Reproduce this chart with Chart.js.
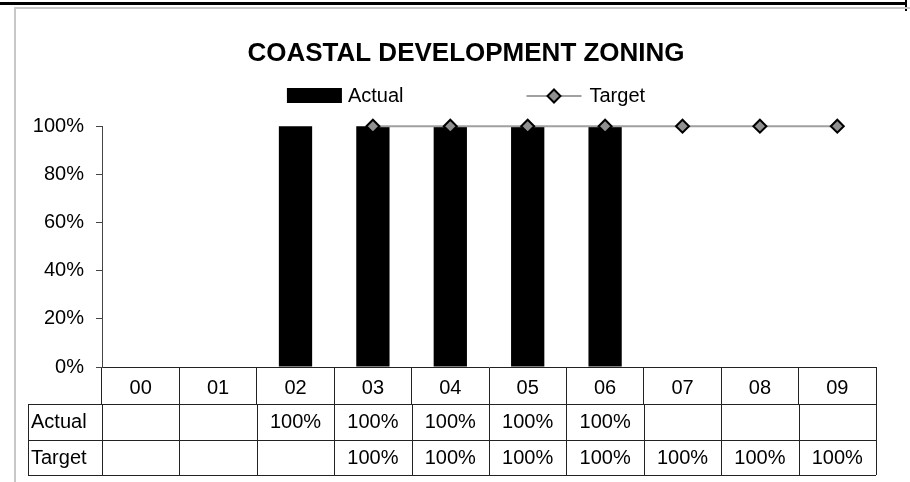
<!DOCTYPE html>
<html lang="en">
<head>
    <meta charset="UTF-8">
    <title>Coastal Development Zoning</title>
    <style>
        body {
            margin: 0;
            background: #fff;
        }
        canvas {
            display: block;
        }
    </style>
</head>
<body>
    <canvas id="grafico" width="910" height="482"></canvas>

    <script src="https://cdn.jsdelivr.net/npm/chart.js"></script>
    <script>
        const anni = ['00', '01', '02', '03', '04', '05', '06', '07', '08', '09'];
        const actual = [null, null, 1, 1, 1, 1, 1, null, null, null];
        const target = [null, null, null, 1, 1, 1, 1, 1, 1, 1];
        const yTickLabels = ['0%', '20%', '40%', '60%', '80%', '100%'];

        const FONT = "'Liberation Sans', Arial, sans-serif";
        const percento = v => (v === null || v === undefined) ? '' : Math.round(v * 100) + '%';

        // cornice esterna: linea nera in alto e bordo grigio dell'area del grafico
        const cornice = {
            id: 'cornice',
            beforeDraw(chart) {
                const ctx = chart.ctx;
                ctx.save();
                ctx.fillStyle = '#fff';
                ctx.fillRect(0, 0, chart.width, chart.height);
                ctx.fillStyle = '#000';
                ctx.fillRect(0, 2, 907, 3);
                ctx.fillRect(905, 0, 2, 11);
                ctx.fillStyle = '#c8c8c8';
                ctx.fillRect(14, 7, chart.width - 14, 2);
                ctx.fillRect(14, 7, 2, chart.height - 7);
                ctx.restore();
            }
        };

        // legenda disegnata a mano: rettangolo per le barre, linea con rombo per il target
        const legenda = {
            id: 'legenda',
            afterDraw(chart) {
                const ctx = chart.ctx;
                const dsBar = chart.data.datasets[0];
                const dsLine = chart.data.datasets[1];
                const t = chart.titleBlock;
                const cx = (t.left + t.right) / 2;
                const y = 96;
                ctx.save();
                ctx.font = '20px ' + FONT;
                ctx.textBaseline = 'middle';
                ctx.textAlign = 'left';
                const w1 = ctx.measureText(dsBar.label).width;
                const w2 = ctx.measureText(dsLine.label).width;
                const larghezza = 55 + 6 + w1 + 123 + 55 + 8 + w2;
                let x = cx - larghezza / 2;

                ctx.fillStyle = dsBar.backgroundColor;
                ctx.fillRect(x, y - 8, 55, 15);
                ctx.fillStyle = '#000';
                ctx.fillText(dsBar.label, x + 61, y);
                x += 61 + w1 + 123;

                ctx.strokeStyle = dsLine.borderColor;
                ctx.lineWidth = dsLine.borderWidth;
                ctx.beginPath();
                ctx.moveTo(x, y);
                ctx.lineTo(x + 55, y);
                ctx.stroke();
                const px = x + 27.5, r = dsLine.pointRadius;
                ctx.beginPath();
                ctx.moveTo(px, y - r);
                ctx.lineTo(px + r, y);
                ctx.lineTo(px, y + r);
                ctx.lineTo(px - r, y);
                ctx.closePath();
                ctx.fillStyle = dsLine.pointBackgroundColor;
                ctx.fill();
                ctx.lineWidth = dsLine.pointBorderWidth;
                ctx.strokeStyle = dsLine.pointBorderColor;
                ctx.stroke();
                ctx.fillStyle = '#000';
                ctx.fillText(dsLine.label, x + 63, y);
                ctx.restore();
            }
        };

        // tabella dati sotto l'asse delle categorie
        const tabella = {
            id: 'tabella',
            afterDraw(chart) {
                const ctx = chart.ctx;
                const xs = chart.scales.x;
                const step = xs.getPixelForValue(1) - xs.getPixelForValue(0);
                const top = xs.top + 37;
                const rowH = 35.5;
                const sinistra = 28;
                const righe = chart.data.datasets.map(ds => ({ nome: ds.label, valori: ds.data }));

                ctx.save();
                ctx.strokeStyle = '#222';
                ctx.lineWidth = 1;
                ctx.beginPath();
                for (let r = 0; r <= righe.length; r++) {
                    const y = Math.round(top + r * rowH) + 0.5;
                    ctx.moveTo(sinistra, y);
                    ctx.lineTo(xs.right, y);
                }
                const bottom = top + righe.length * rowH;
                ctx.moveTo(sinistra + 0.5, top);
                ctx.lineTo(sinistra + 0.5, bottom);
                for (let i = 0; i <= anni.length; i++) {
                    const x = Math.round(xs.getPixelForValue(0) - step / 2 + i * step) + 0.5;
                    ctx.moveTo(x, top);
                    ctx.lineTo(x, bottom);
                }
                ctx.stroke();

                ctx.font = '20px ' + FONT;
                ctx.fillStyle = '#000';
                ctx.textBaseline = 'middle';
                righe.forEach((riga, r) => {
                    const yc = top + r * rowH + rowH / 2 + 1;
                    ctx.textAlign = 'left';
                    ctx.fillText(riga.nome, sinistra + 3, yc);
                    ctx.textAlign = 'center';
                    riga.valori.forEach((v, i) => {
                        ctx.fillText(percento(v), xs.getPixelForValue(i), yc);
                    });
                });
                ctx.restore();
            }
        };

        const ctx = document.getElementById('grafico').getContext('2d');
        const grafico = new Chart(ctx, {
            type: 'bar',
            data: {
                labels: anni,
                datasets: [{
                    label: 'Actual',
                    data: actual,
                    backgroundColor: '#000',
                    categoryPercentage: 1,
                    barPercentage: 0.43,
                    clip: false,
                    order: 1
                }, {
                    type: 'line',
                    label: 'Target',
                    data: target,
                    borderColor: '#a0a0a0',
                    borderWidth: 2,
                    pointStyle: 'rectRot',
                    pointRadius: 6.5,
                    pointBackgroundColor: '#909090',
                    pointBorderColor: '#000',
                    pointBorderWidth: 2,
                    tension: 0,
                    clip: false,
                    order: 0
                }]
            },
            options: {
                responsive: false,
                animation: false,
                layout: {
                    padding: { left: 22, right: 0, top: 0, bottom: 7 }
                },
                plugins: {
                    legend: { display: false },
                    tooltip: { enabled: false },
                    title: {
                        display: true,
                        text: 'COASTAL DEVELOPMENT ZONING',
                        color: '#000',
                        font: { family: FONT, size: 26, weight: 'bold', lineHeight: 1.2 },
                        padding: { top: 38, bottom: 57 }
                    }
                },
                scales: {
                    x: {
                        grid: {
                            offset: true,
                            drawOnChartArea: false,
                            tickLength: 37,
                            color: '#222'
                        },
                        border: { color: '#222' },
                        ticks: {
                            color: '#000',
                            font: { family: FONT, size: 20 },
                            padding: -28,
                            maxRotation: 0,
                            autoSkip: false
                        },
                        afterFit(scale) { scale.height = 108; }
                    },
                    y: {
                        min: 0,
                        max: 1,
                        grid: {
                            drawOnChartArea: false,
                            tickLength: 6,
                            color: '#444'
                        },
                        border: { color: '#444' },
                        ticks: {
                            stepSize: 0.2,
                            color: '#000',
                            font: { family: FONT, size: 20 },
                            padding: 12,
                            callback: (v, i) => yTickLabels[i]
                        },
                        afterFit(scale) { scale.width = 80; }
                    },
                    // margine destro vuoto, lascia il titolo centrato sull'intera cornice
                    destra: {
                        position: 'right',
                        min: 0,
                        max: 1,
                        grid: { display: false },
                        border: { display: false },
                        ticks: { display: false },
                        afterFit(scale) { scale.width = 34; }
                    }
                }
            },
            plugins: [cornice, legenda, tabella]
        });
    </script>
</body>
</html>
